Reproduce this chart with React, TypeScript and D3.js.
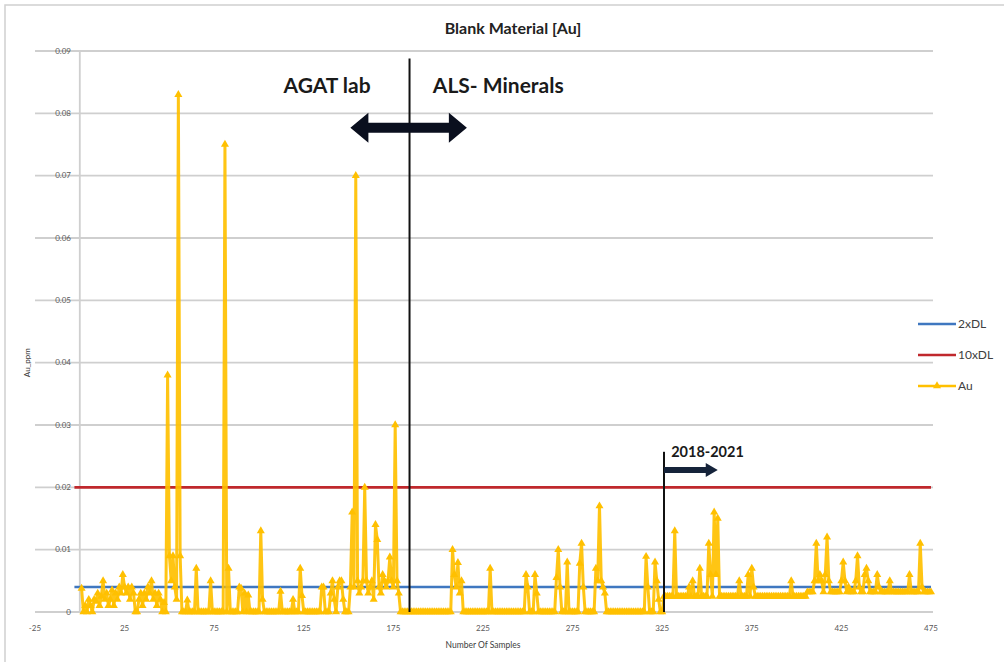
import React from 'react';
import * as d3 from 'd3';

const chartTitle = 'Blank Material [Au]';
const xAxisTitle = 'Number Of Samples';
const yAxisTitle = 'Au_ppm';
const xTicks = [-25, 25, 75, 125, 175, 225, 275, 325, 375, 425, 475];
const yTicks = [0, 0.01, 0.02, 0.03, 0.04, 0.05, 0.06, 0.07, 0.08, 0.09];
const yTickLabels = ['0', '0.01', '0.02', '0.03', '0.04', '0.05', '0.06', '0.07', '0.08', '0.09'];

// Au (ppm) per sample, sample 1..475
const auValues = [
  // 1-25
  0.0038, 0, 0.001, 0, 0.002, 0.001, 0, 0.002, 0.0017, 0.003, 0.001, 0.0025, 0.005, 0.002, 0.003, 0.001, 0.002, 0.0035, 0.001, 0.003, 0.002, 0.004, 0.003, 0.006, 0.004,
  // 26-50
  0.003, 0.004, 0.002, 0.004, 0.003, 0, 0, 0.002, 0.003, 0.001, 0.003, 0.002, 0.004, 0.003, 0.005, 0.002, 0.003, 0.001, 0.003, 0.002, 0, 0.0015, 0, 0.038, 0.009,
  // 51-75
  0.005, 0.009, 0.004, 0.002, 0.083, 0.009, 0, 0, 0, 0.0019, 0, 0, 0, 0, 0.007, 0, 0, 0, 0, 0, 0, 0, 0.005, 0, 0,
  // 76-100
  0, 0, 0, 0, 0, 0.075, 0, 0.007, 0, 0, 0, 0, 0, 0.004, 0.0038, 0, 0.003, 0, 0.0027, 0, 0, 0, 0, 0, 0,
  // 101-125
  0.013, 0.002, 0, 0, 0, 0, 0, 0, 0, 0, 0, 0.0033, 0, 0, 0, 0, 0, 0, 0.002, 0, 0, 0, 0.007, 0.0026, 0,
  // 126-150
  0, 0, 0, 0, 0, 0, 0, 0, 0, 0.004, 0.004, 0, 0, 0, 0.003, 0.005, 0.002, 0, 0.004, 0.005, 0.005, 0.002, 0, 0, 0,
  // 151-175
  0.004, 0.016, 0.004, 0.07, 0.005, 0.003, 0.004, 0.005, 0.02, 0.005, 0.003, 0.004, 0.005, 0.002, 0.014, 0.0116, 0.004, 0.003, 0.006, 0.005, 0.004, 0.005, 0.0088, 0.005, 0.004,
  // 176-200
  0.03, 0.005, 0.003, 0, 0, 0, 0, 0, 0, 0, 0, 0, 0, 0, 0, 0, 0, 0, 0, 0, 0, 0, 0, 0, 0,
  // 201-225
  0, 0, 0, 0, 0, 0, 0, 0.01, 0.006, 0.004, 0.0079, 0.003, 0.005, 0, 0, 0, 0, 0, 0, 0, 0, 0, 0, 0, 0,
  // 226-250
  0, 0, 0, 0.007, 0, 0, 0, 0, 0, 0, 0, 0, 0, 0, 0, 0, 0, 0, 0, 0, 0, 0, 0, 0.006, 0.004,
  // 251-275
  0, 0, 0, 0.006, 0.003, 0, 0, 0, 0, 0, 0, 0, 0, 0, 0, 0.0055, 0.01, 0.004, 0, 0, 0, 0.008, 0, 0, 0,
  // 276-300
  0, 0, 0, 0.0078, 0.011, 0.004, 0, 0, 0, 0, 0, 0, 0.007, 0.005, 0.017, 0.005, 0.004, 0.003, 0, 0, 0, 0, 0, 0, 0,
  // 301-325
  0, 0, 0, 0, 0, 0, 0, 0, 0, 0, 0, 0, 0, 0, 0, 0.0089, 0.004, 0, 0, 0, 0.008, 0.005, 0.002, 0, 0,
  // 326-350
  0.0025, 0.0025, 0.0025, 0.0025, 0.0025, 0.0025, 0.013, 0.0025, 0.0025, 0.0025, 0.0025, 0.0025, 0.0025, 0.0025, 0.004, 0.0025, 0.005, 0.0025, 0.0025, 0.0025, 0.007, 0.0025, 0.0025, 0.0025, 0.0025,
  // 351-375
  0.011, 0.006, 0.0025, 0.016, 0.006, 0.015, 0.0025, 0.0025, 0.0025, 0.0025, 0.0025, 0.0025, 0.0025, 0.0025, 0.0025, 0.0025, 0.0025, 0.005, 0.0025, 0.0025, 0.0025, 0.0025, 0.006, 0.0025, 0.007,
  // 376-400
  0.004, 0.0025, 0.0025, 0.0025, 0.0025, 0.0025, 0.0025, 0.0025, 0.0025, 0.0025, 0.0025, 0.0025, 0.0025, 0.0025, 0.0025, 0.0025, 0.0025, 0.0025, 0.0025, 0.0025, 0.0025, 0.005, 0.0025, 0.0025, 0.0025,
  // 401-425
  0.0025, 0.0025, 0.0025, 0.0025, 0.0025, 0.0032, 0.0032, 0.0032, 0.0032, 0.005, 0.011, 0.005, 0.006, 0.005, 0.0032, 0.006, 0.012, 0.005, 0.0032, 0.0032, 0.0032, 0.0032, 0.0032, 0.0032, 0.005,
  // 426-450
  0.008, 0.005, 0.0032, 0.004, 0.0032, 0.0032, 0.0032, 0.005, 0.009, 0.004, 0.0032, 0.0032, 0.006, 0.007, 0.005, 0.0032, 0.0032, 0.0032, 0.0032, 0.006, 0.004, 0.0032, 0.0032, 0.0032, 0.0032,
  // 451-475
  0.0032, 0.005, 0.0032, 0.0032, 0.0032, 0.0032, 0.0032, 0.0032, 0.0032, 0.0032, 0.0032, 0.0032, 0.006, 0.0032, 0.0032, 0.0032, 0.0032, 0.0032, 0.011, 0.004, 0.0032, 0.0032, 0.0032, 0.0032, 0.0032,
];

const twoDL = 0.004;
const tenDL = 0.02;
const thresholdRange = [-3, 475];
const labChangeSample = 184;
const periodStartSample = 326;
const legendLabels = ['2xDL', '10xDL', 'Au'];

const COL_AU = '#FFC000';
const COL_BLUE = '#3F77C0';
const COL_RED = '#C0282D';
const COL_GRID = '#CFCFCF';
const FONT = 'Lato, "Open Sans", sans-serif';

export default function App() {
  const W = 1004, H = 662;
  const x = d3.scaleLinear().domain([-25, 475]).range([35, 931]);
  const y = d3.scaleLinear().domain([0, 0.09]).range([612, 51]);

  const auLine = d3.line<number>().x((_, i) => x(i + 1)).y((d) => y(d));
  const tri = d3.symbol().type(d3.symbolTriangle).size(28)() as string;

  const thLine = (v: number) =>
    d3.line<number>().x((d) => x(d)).y(() => y(v))(thresholdRange) as string;

  // double arrow
  const ax1 = x(151), ax2 = x(216), ay = y(0.0777);
  const hl = 18, hh = 15, st = 5;
  const dbl = `M${ax1},${ay} L${ax1 + hl},${ay - hh} L${ax1 + hl},${ay - st} L${ax2 - hl},${ay - st} L${ax2 - hl},${ay - hh} L${ax2},${ay} L${ax2 - hl},${ay + hh} L${ax2 - hl},${ay + st} L${ax1 + hl},${ay + st} L${ax1 + hl},${ay + hh} Z`;
  const rx1 = x(periodStartSample), rx2 = x(356), ry = y(0.0228);
  const rhl = 12, rhh = 7, rst = 3;
  const rArrow = `M${rx1},${ry - rst} L${rx2 - rhl},${ry - rst} L${rx2 - rhl},${ry - rhh} L${rx2},${ry} L${rx2 - rhl},${ry + rhh} L${rx2 - rhl},${ry + rst} L${rx1},${ry + rst} Z`;

  const legendY = [324, 355, 386];
  const legendCols = [COL_BLUE, COL_RED, COL_AU];

  return (
    <svg width={W} height={H} style={{ position: 'absolute', left: 0, top: 0, background: '#fff' }}>
      <rect x={0} y={0} width={W} height={H} fill="#fff" />
      <rect x={5} y={5} width={W + 10} height={H + 10} fill="none" stroke="#D0D0D0" strokeWidth={1.5} />
      <text x={513} y={34} textAnchor="middle" fontFamily={FONT} fontWeight="bold" fontSize={16} fill="#222">{chartTitle}</text>

      {yTicks.map((t) => (
        <line key={'g' + t} x1={x(-25)} x2={933} y1={y(t)} y2={y(t)} stroke={COL_GRID} strokeWidth={1.8} />
      ))}
      <line x1={x(0)} x2={x(0)} y1={y(0.09)} y2={y(0)} stroke={COL_GRID} strokeWidth={1.8} />
      {yTicks.map((t, i) => (
        <text key={'yl' + t} x={71} y={y(t)} dy="0.35em" textAnchor="end" fontFamily={FONT} fontSize={8} fill="#595959">{yTickLabels[i]}</text>
      ))}
      {xTicks.map((t) => (
        <text key={'xl' + t} x={x(t)} y={631} textAnchor="middle" fontFamily={FONT} fontSize={8} fill="#595959">{t}</text>
      ))}
      <text x={483} y={648} textAnchor="middle" fontFamily={FONT} fontSize={8.5} fill="#404040">{xAxisTitle}</text>
      <text transform={`translate(30,${y(0.04)}) rotate(-90)`} textAnchor="middle" fontFamily={FONT} fontSize={8} fill="#404040">{yAxisTitle}</text>

      <path d={thLine(twoDL)} stroke={COL_BLUE} strokeWidth={2.6} fill="none" />
      <path d={thLine(tenDL)} stroke={COL_RED} strokeWidth={2.6} fill="none" />

      <path d={auLine(auValues) as string} stroke={COL_AU} strokeWidth={3} fill="none" strokeLinejoin="round" opacity={0.92} />
      {auValues.map((v, i) => (
        <path key={'m' + i} d={tri} transform={`translate(${x(i + 1)},${y(v)})`} fill={COL_AU} />
      ))}

      <line x1={x(labChangeSample)} x2={x(labChangeSample)} y1={y(0.0888)} y2={y(0)} stroke="#111" strokeWidth={2} />
      <line x1={x(periodStartSample)} x2={x(periodStartSample)} y1={y(0.0257)} y2={y(0)} stroke="#111" strokeWidth={2} />

      <path d={dbl} fill="#0A0F1E" />
      <path d={rArrow} fill="#15233A" />

      <text x={x(138)} y={y(0.0833)} textAnchor="middle" fontFamily={FONT} fontWeight="bold" fontSize={21} fill="#1a1a1a">AGAT lab</text>
      <text x={x(197)} y={y(0.0833)} fontFamily={FONT} fontWeight="bold" fontSize={21} fill="#1a1a1a">ALS- Minerals</text>
      <text x={x(330)} y={y(0.0249)} fontFamily={FONT} fontWeight="bold" fontSize={14.5} fill="#1a1a1a">2018-2021</text>

      {legendLabels.map((l, i) => (
        <g key={l}>
          <line x1={918} x2={956} y1={legendY[i]} y2={legendY[i]} stroke={legendCols[i]} strokeWidth={2.6} />
          {i === 2 && <path d={tri} transform={`translate(937,${legendY[i]})`} fill={COL_AU} />}
          <text x={958} y={legendY[i]} dy="0.35em" fontFamily={FONT} fontSize={12} fill="#404040">{l}</text>
        </g>
      ))}
    </svg>
  );
}
